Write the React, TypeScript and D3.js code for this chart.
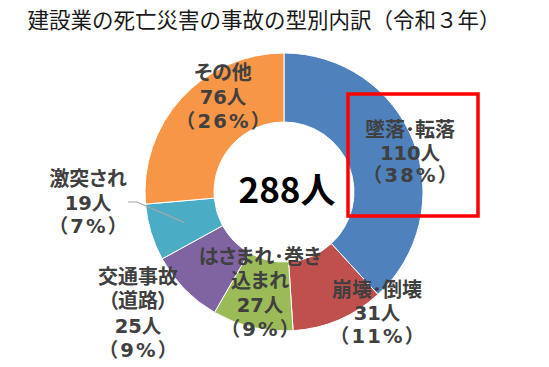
import React from "react";
import * as d3 from "d3";

const categories = ["墜落・転落", "崩壊・倒壊", "はさまれ・巻き込まれ", "交通事故（道路）", "激突され", "その他"];
const values = [110, 31, 27, 25, 19, 76];
const labelLines = [
  ["墜落･転落", "110人", "（38%）"],
  ["崩壊･倒壊", "31人", "（11%）"],
  ["はさまれ･巻き", "込まれ", "27人", "（9%）"],
  ["交通事故", "（道路）", "25人", "（9%）"],
  ["激突され", "19人", "（7%）"],
  ["その他", "76人", "（26%）"],
];
const total = 288;
const title = "建設業の死亡災害の事故の型別内訳（令和３年）";

const colors = ["#4F81BD", "#C0504D", "#9BBB59", "#8064A2", "#4BACC6", "#F79646"];
// label layout (center x, first line y, line height)
const labelPos = [
  [410, 137, 22.5],
  [377, 297, 23],
  [260, 264, 24],
  [138, 284, 24.4],
  [88, 186, 23.5],
  [223, 80, 24],
];

export default function App() {
  const W = 549, H = 367;
  const cx = 284, cy = 192;
  const rOuter = 139, rInner = 70;
  const pie = d3.pie<number>().sort(null).value((d) => d)(values);
  const arc = d3.arc<d3.PieArcDatum<number>>().innerRadius(rInner).outerRadius(rOuter);
  const font = "'Noto Sans CJK JP', 'Noto Sans', sans-serif";
  const numFont = "'DejaVu Sans', 'Noto Sans CJK JP', sans-serif";
  const teal = pie[4];
  const [tx, ty] = arc.centroid(teal);
  return (
    <svg width={W} height={H} style={{ position: "absolute", left: 0, top: 0, background: "#fff" }}>
      <text x={264} y={28} textAnchor="middle" fontFamily={font} fontSize={21.5} fill="#1a1a1a">
        {title}
      </text>
      <g transform={`translate(${cx},${cy})`}>
        {pie.map((p, i) => (
          <path key={categories[i]} d={arc(p) || ""} fill={colors[i]} stroke="#fff" strokeWidth={1} />
        ))}
        <polyline
          points={`${128 - cx},${202 - cy} ${137 - cx},${202 - cy} ${tx},${ty}`}
          fill="none"
          stroke="#a6a6a6"
          strokeWidth={1.2}
        />
        <text x={3} y={11} textAnchor="middle" fontFamily={font} fontSize={35} fontWeight="bold" fill="#000">
          {total}人
        </text>
      </g>
      <rect x={348} y={94} width={130} height={122} fill="none" stroke="#ff0000" strokeWidth={3.5} />
      {labelLines.map((lines, i) => {
        const [lx, ly, lh] = labelPos[i];
        return (
          <g key={i}>
            {lines.map((l, j) => {
              const digits = /[0-9]/.test(l);
              const paren = digits && l.startsWith("（");
              const ls = paren ? 2.2 : 0;
              return (
                <text
                  key={j}
                  x={lx + ls / 2}
                  y={ly + j * lh}
                  textAnchor="middle"
                  fontFamily={digits ? numFont : font}
                  fontSize={digits ? 19.5 : 20}
                  fontWeight="bold"
                  fill="#404040"
                  letterSpacing={ls}
                  style={{
                    fontFeatureSettings: digits ? "normal" : "'palt'",
                  } as React.CSSProperties}
                >
                  {l}
                </text>
              );
            })}
          </g>
        );
      })}
    </svg>
  );
}
